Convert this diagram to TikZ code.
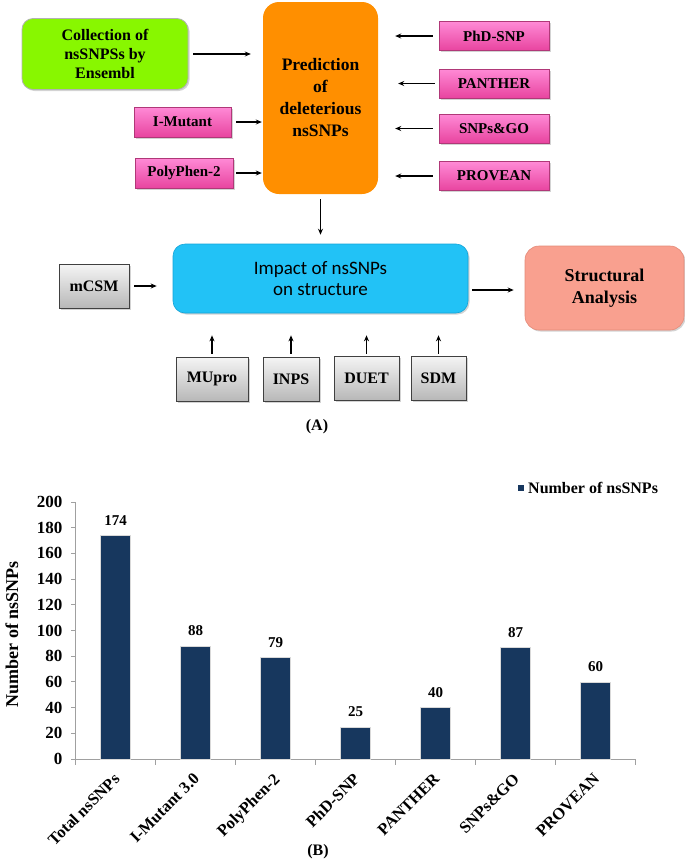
\documentclass[tikz,border=0pt]{standalone}
\usepackage{fontspec}
\setmainfont{Liberation Serif}
\newfontfamily\calib{Carlito}
\usetikzlibrary{arrows.meta,shadows}
\definecolor{cgreen}{HTML}{88F700}
\definecolor{corange}{HTML}{FF8F00}
\definecolor{cpinkT}{HTML}{FF8AD6}
\definecolor{cpinkB}{HTML}{E8449F}
\definecolor{cpinkD}{HTML}{B03878}
\definecolor{cblue}{HTML}{22C2F6}
\definecolor{cblueD}{HTML}{14A4D8}
\definecolor{csalmon}{HTML}{F9A08F}
\definecolor{csalmonD}{HTML}{E48A78}
\definecolor{cbar}{HTML}{17375E}
\definecolor{caxis}{HTML}{A0A0A0}
\tikzset{
  shad/.style={drop shadow={opacity=0.35,shadow xshift=1.5pt,shadow yshift=-1.5pt}},
  pinkbox/.style={rectangle,top color=cpinkT,bottom color=cpinkB,draw=cpinkD,line width=0.6pt,
    minimum width=110pt,minimum height=29pt,inner sep=0pt,font=\fontsize{15}{17}\selectfont\bfseries,shad},
  greybox/.style={rectangle,top color=black!4,bottom color=black!28,draw=black!75,line width=0.8pt,
    minimum height=44pt,inner sep=0pt,font=\fontsize{16}{18}\selectfont\bfseries,shad},
  arr/.style={-{Stealth[length=6pt,width=5pt]},line width=1.3pt},
  ylab/.style={anchor=east,font=\fontsize{17}{19}\selectfont\bfseries},
  vlab/.style={font=\fontsize{15}{17}\selectfont\bfseries},
  xlab/.style={anchor=north east,rotate=45,inner sep=0pt,font=\fontsize{16.5}{18}\selectfont\bfseries},
  bar/.style={fill=cbar,draw=black!15,line width=0.5pt}
}
\begin{document}
\begin{tikzpicture}[x=1pt,y=-1pt]
\useasboundingbox (0,0) rectangle (685,863);
% ---------- (A) flowchart ----------
\node[rectangle,rounded corners=11pt,fill=cgreen,draw=black!30,line width=0.8pt,minimum width=166pt,minimum height=71pt,
  align=center,font=\fontsize{16}{19}\selectfont\bfseries,shad] (coll) at (105,54) {Collection of\\nsSNPSs by\\Ensembl};
\node[rectangle,rounded corners=16pt,fill=corange,minimum width=115pt,minimum height=192pt,
  align=center,font=\fontsize{17.5}{22}\selectfont\bfseries] (pred) at (320.5,98) {Prediction\\of\\deleterious\\nsSNPs};
\node[pinkbox] (phd) at (494,36) {PhD-SNP};
\node[pinkbox] (pan) at (494,83.5) {PANTHER};
\node[pinkbox] (sng) at (494,128.5) {SNPs\&GO};
\node[pinkbox] (prov) at (494,176) {PROVEAN};
\node[pinkbox,minimum width=97pt,minimum height=30pt] (imut) at (182.5,122) {I-Mutant};
\node[pinkbox,minimum width=98pt,minimum height=30pt] (poly) at (184,173) {PolyPhen-2};
\node[rectangle,rounded corners=12pt,fill=cblue,draw=cblueD,line width=0.6pt,minimum width=295pt,minimum height=69pt,
  align=center,font=\calib\fontsize{19}{21}\selectfont,shad] (imp) at (320.5,278.5) {Impact of nsSNPs\\on structure};
\node[greybox,minimum width=70pt] (mcsm) at (94,286) {mCSM};
\node[rectangle,rounded corners=14pt,fill=csalmon,draw=csalmonD,line width=0.6pt,minimum width=159pt,minimum height=84pt,
  align=center,font=\fontsize{18}{22}\selectfont\bfseries,shad] (sa) at (604.5,288) {Structural\\Analysis};
\node[greybox,minimum width=72pt] (mup) at (212,379) {MUpro};
\node[greybox,minimum width=56pt] (inps) at (291,379) {INPS};
\node[greybox,minimum width=65pt] (duet) at (366.5,378) {DUET};
\node[greybox,minimum width=55pt] (sdm) at (438.5,378) {SDM};
% arrows
\draw[arr,shorten <=5pt,shorten >=12pt] (coll.east) -- (coll.east -| pred.west);
\draw[arr,shorten <=5pt,shorten >=1pt] (imut.east) -- (imut.east -| pred.west);
\draw[arr,shorten <=3pt,shorten >=1pt] (poly.east) -- (poly.east -| pred.west);
\draw[arr,shorten <=6pt,shorten >=17pt] (phd.west) -- (phd.west -| pred.east);
\draw[arr,shorten <=4pt,shorten >=20pt] (pan.west) -- (pan.west -| pred.east);
\draw[arr,shorten <=6pt,shorten >=17pt] (sng.west) -- (sng.west -| pred.east);
\draw[arr,shorten <=6pt,shorten >=17pt] (prov.west) -- (prov.west -| pred.east);
\draw[arr,shorten <=5pt,shorten >=9pt] (pred.south) -- (imp.north);
\draw[arr,shorten <=5pt,shorten >=16pt] (mcsm.east) -- (mcsm.east -| imp.west);
\draw[arr,shorten <=4pt,shorten >=11pt] (imp.east |- sa.center) ++(0,2) coordinate (ie) (ie) -- (ie -| sa.west);
\draw[arr,shorten <=3pt,shorten >=22pt] (mup.north) -- (mup.north |- imp.south);
\draw[arr,shorten <=3pt,shorten >=22pt] (inps.north) -- (inps.north |- imp.south);
\draw[arr,shorten <=2pt,shorten >=22pt] (duet.north) -- (duet.north |- imp.south);
\draw[arr,shorten <=2pt,shorten >=22pt] (sdm.north) -- (sdm.north |- imp.south);
\node[font=\fontsize{16}{18}\selectfont\bfseries] (lA) at (317,427) {(A)};
% ---------- (B) bar chart ----------
\draw[caxis,line width=1pt] (75.5,502) -- (75.5,759) -- (635.5,759);
\foreach \v in {0,20,...,200}{
  \draw[caxis,line width=1pt] (71,759-1.285*\v) -- (75.5,759-1.285*\v);
  \node[ylab] at (66,759-1.285*\v) {\v};
}
\foreach \i in {0,...,7}{
  \draw[caxis,line width=1pt] (75.5+80*\i,759) -- (75.5+80*\i,765);
}
\foreach \v/\name [count=\i from 0] in {174/Total nsSNPs,88/I-Mutant 3.0,79/PolyPhen-2,25/PhD-SNP,40/PANTHER,87/SNPs\&GO,60/PROVEAN}{
  \pgfmathsetmacro{\cx}{115.5+80*\i}
  \pgfmathsetmacro{\top}{759-1.285*\v}
  \draw[bar] (\cx-15,759) rectangle (\cx+15,\top);
  \node[vlab] at (\cx,\top-15) {\v};
  \node[xlab] at (\cx-3,772) {\name};
}
\node[rotate=90,font=\fontsize{18}{20}\selectfont\bfseries] (ytitle) at (12,634) {Number of nsSNPs};
\fill[cbar] (518,485) rectangle (524,491);
\node[anchor=west,font=\fontsize{16}{18}\selectfont\bfseries,inner sep=0pt] (leg) at (528,488) {Number of nsSNPs};
\node[font=\fontsize{16}{18}\selectfont\bfseries] (lB) at (318,852) {(B)};
\end{tikzpicture}
\end{document}
